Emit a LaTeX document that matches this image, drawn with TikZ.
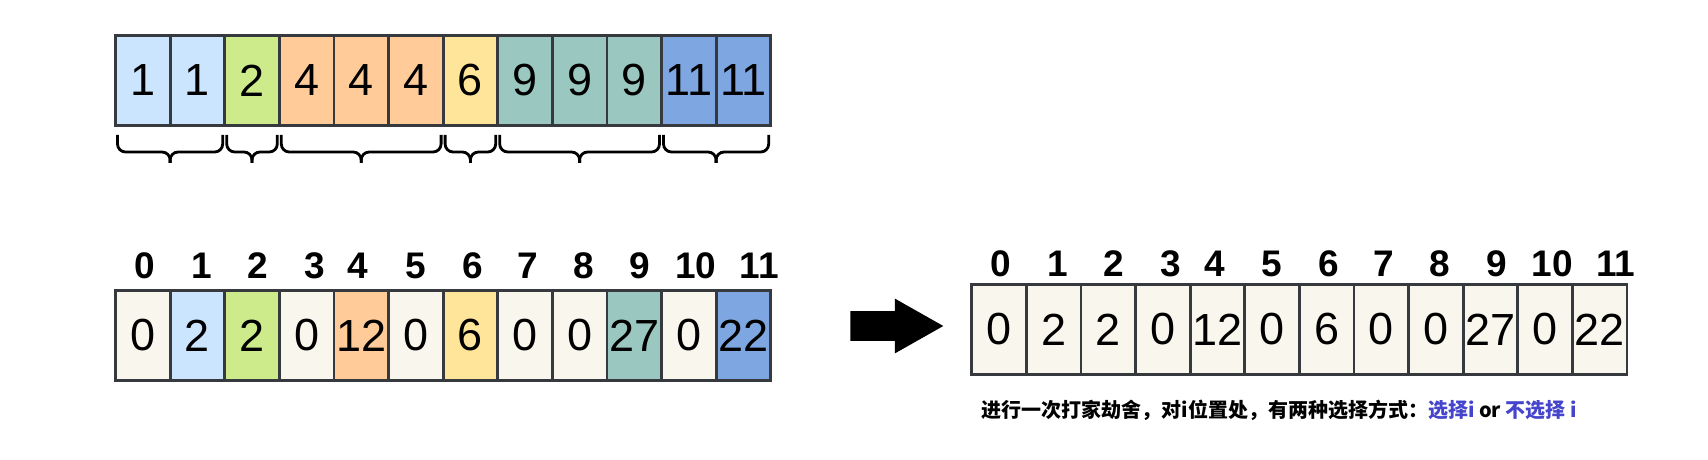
\documentclass[tikz,border=0pt]{standalone}
\usepackage{fontspec}
\setmainfont{Liberation Sans}
\newfontfamily\cjk{Noto Sans CJK SC}
\usepackage{xcolor}
\usepackage{tikz}
\usetikzlibrary{shapes.arrows,positioning,calc}
\definecolor{edge}{RGB}{54,57,61}
\definecolor{paleblue}{RGB}{204,229,255}
\definecolor{palegreen}{RGB}{205,235,139}
\definecolor{paleorange}{RGB}{255,204,153}
\definecolor{paleyellow}{RGB}{255,229,153}
\definecolor{sage}{RGB}{154,199,191}
\definecolor{cornflower}{RGB}{126,166,224}
\definecolor{cream}{RGB}{249,247,237}
\definecolor{pick}{RGB}{68,68,204}
\tikzset{
  cell/.style={rectangle,draw=edge,line width=1.4pt,fill=cream,outer sep=0pt,inner sep=0pt,
              minimum width=27.3pt,minimum height=45pt,font=\fontsize{22.5}{24}\selectfont},
  idx/.style={anchor=base,inner sep=0pt,font=\fontsize{18.5}{20}\selectfont\bfseries},
  brc/.style={line width=1.4pt,rounded corners=4pt},
  note/.style={anchor=west,inner sep=0pt,font=\cjk\fontsize{10}{12}\selectfont\bfseries},
  bigarrow/.style={single arrow,fill=black,inner xsep=0pt,inner ysep=7.25pt,minimum height=46.5pt,
              minimum width=27pt,single arrow head extend=6.25pt,single arrow tip angle=59},
}
% curly bracket under a group of equal values
\newcommand{\grpbrace}[2]{%
  \coordinate (bl) at ([xshift=1pt,yshift=-4.75pt]#1.south west);
  \coordinate (br) at ([xshift=-1pt,yshift=-4.75pt]#2.south east);
  \coordinate (bm) at ($(bl)!0.5!(br)+(0,-8.5pt)$);
  \coordinate (bt) at ($(bl)!0.5!(br)+(0,-14pt)$);
  \draw[brc] (bl) |- (bm) -- (bt);
  \draw[brc] (br) |- (bm) -- (bt);}

\begin{document}
\begin{tikzpicture}[node distance=0pt]
  \path[use as bounding box,fill=white] (0,0) rectangle (854pt,-230pt);

  % sorted input
  \node[cell,fill=paleblue,anchor=north west] at (57.75pt,-17.75pt) (t0) {1};
  \node[cell,fill=paleblue,right=of t0] (t1) {1};
  \node[cell,fill=palegreen,right=of t1] (t2) {2};
  \node[cell,fill=paleorange,right=of t2] (t3) {4};
  \node[cell,fill=paleorange,right=of t3] (t4) {4};
  \node[cell,fill=paleorange,right=of t4] (t5) {4};
  \node[cell,fill=paleyellow,right=of t5] (t6) {6};
  \node[cell,fill=sage,right=of t6] (t7) {9};
  \node[cell,fill=sage,right=of t7] (t8) {9};
  \node[cell,fill=sage,right=of t8] (t9) {9};
  \node[cell,fill=cornflower,right=of t9] (t10) {11};
  \node[cell,fill=cornflower,right=of t10] (t11) {11};

  \grpbrace{t0}{t1}
  \grpbrace{t2}{t2}
  \grpbrace{t3}{t5}
  \grpbrace{t6}{t6}
  \grpbrace{t7}{t9}
  \grpbrace{t10}{t11}

  % summed buckets
  \node[cell,below=82.5pt of t0] (b0) {0};
  \node[cell,fill=paleblue,right=of b0] (b1) {2};
  \node[cell,fill=palegreen,right=of b1] (b2) {2};
  \node[cell,right=of b2] (b3) {0};
  \node[cell,fill=paleorange,right=of b3] (b4) {12};
  \node[cell,right=of b4] (b5) {0};
  \node[cell,fill=paleyellow,right=of b5] (b6) {6};
  \node[cell,right=of b6] (b7) {0};
  \node[cell,right=of b7] (b8) {0};
  \node[cell,fill=sage,right=of b8] (b9) {27};
  \node[cell,right=of b9] (b10) {0};
  \node[cell,fill=cornflower,right=of b10] (b11) {22};

  \node[idx] at ([xshift=1pt,yshift=6pt]b0.north) (bl0) {0};
  \node[idx] at ([xshift=2pt,yshift=6pt]b1.north) (bl1) {1};
  \node[idx] at ([xshift=3pt,yshift=6pt]b2.north) (bl2) {2};
  \node[idx] at ([xshift=4pt,yshift=6pt]b3.north) (bl3) {3};
  \node[idx] at ([xshift=-1.5pt,yshift=6pt]b4.north) (bl4) {4};
  \node[idx] at ([xshift=0pt,yshift=6pt]b5.north) (bl5) {5};
  \node[idx] at ([xshift=1pt,yshift=6pt]b6.north) (bl6) {6};
  \node[idx] at ([xshift=1.5pt,yshift=6pt]b7.north) (bl7) {7};
  \node[idx] at ([xshift=2pt,yshift=6pt]b8.north) (bl8) {8};
  \node[idx] at ([xshift=3pt,yshift=6pt]b9.north) (bl9) {9};
  \node[idx] at ([xshift=3.5pt,yshift=6pt]b10.north) (bl10) {10};
  \node[idx] at ([xshift=8pt,yshift=6pt]b11.north) (bl11) {11};

  \node[bigarrow,right=39.6pt of b11,anchor=tail,yshift=4.75pt] (go) {};

  % same buckets, robbed as a line
  \node[cell,right=100.5pt of b11,yshift=3pt] (r0) {0};
  \node[cell,right=of r0] (r1) {2};
  \node[cell,right=of r1] (r2) {2};
  \node[cell,right=of r2] (r3) {0};
  \node[cell,right=of r3] (r4) {12};
  \node[cell,right=of r4] (r5) {0};
  \node[cell,right=of r5] (r6) {6};
  \node[cell,right=of r6] (r7) {0};
  \node[cell,right=of r7] (r8) {0};
  \node[cell,right=of r8] (r9) {27};
  \node[cell,right=of r9] (r10) {0};
  \node[cell,right=of r10] (r11) {22};

  \node[idx] at ([xshift=1pt,yshift=4.25pt]r0.north) (rl0) {0};
  \node[idx] at ([xshift=2pt,yshift=4.25pt]r1.north) (rl1) {1};
  \node[idx] at ([xshift=3pt,yshift=4.25pt]r2.north) (rl2) {2};
  \node[idx] at ([xshift=4pt,yshift=4.25pt]r3.north) (rl3) {3};
  \node[idx] at ([xshift=-1.5pt,yshift=4.25pt]r4.north) (rl4) {4};
  \node[idx] at ([xshift=0pt,yshift=4.25pt]r5.north) (rl5) {5};
  \node[idx] at ([xshift=1pt,yshift=4.25pt]r6.north) (rl6) {6};
  \node[idx] at ([xshift=1.5pt,yshift=4.25pt]r7.north) (rl7) {7};
  \node[idx] at ([xshift=2pt,yshift=4.25pt]r8.north) (rl8) {8};
  \node[idx] at ([xshift=3pt,yshift=4.25pt]r9.north) (rl9) {9};
  \node[idx] at ([xshift=3.5pt,yshift=4.25pt]r10.north) (rl10) {10};
  \node[idx] at ([xshift=8pt,yshift=4.25pt]r11.north) (rl11) {11};

  \node[note] at ([xshift=4.75pt,yshift=-17.75pt]r0.south west) (cap)
    {进行一次打家劫舍，对i位置处，有两种选择方式：\textcolor{pick}{选择i} or \textcolor{pick}{不选择 i}};
\end{tikzpicture}
\end{document}
